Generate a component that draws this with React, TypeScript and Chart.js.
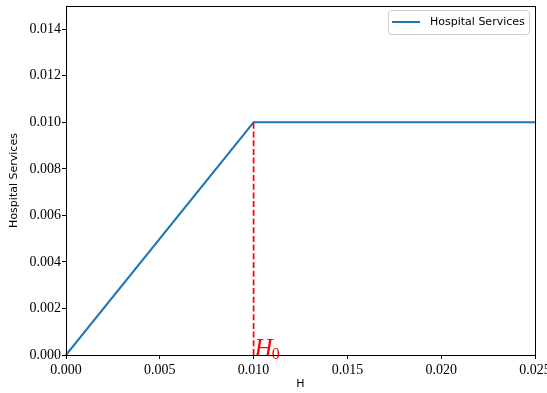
import React, { useEffect, useRef } from 'react';
import { Chart, registerables } from 'chart.js';

Chart.register(...registerables);

const seriesName = 'Hospital Services';
const xAxisTitle = 'H';
const yAxisTitle = 'Hospital Services';
const hValues = [0, 0.01, 0.025];
const serviceValues = [0, 0.01, 0.01];
const thresholdH = [0.01];
const thresholdTop = [0.01];
const thresholdLabel = 'H';
const thresholdSub = '0';
const xTicks = [0, 0.005, 0.01, 0.015, 0.02, 0.025];
const yTicks = [0, 0.002, 0.004, 0.006, 0.008, 0.01, 0.012, 0.014];
const xRange = [0, 0.025];
const yRange = [0, 0.015];

const BLUE = '#1f77b4';
const RED = '#ff0000';
const TICK_FONT = { family: '"Liberation Serif", serif', size: 14 };
const SANS = '"DejaVu Sans", sans-serif';

export default function App() {
  const ref = useRef<HTMLCanvasElement | null>(null);

  useEffect(() => {
    document.body.style.margin = '0';
    const canvas = ref.current;
    if (!canvas) return;

    const overlay = {
      id: 'overlay',
      afterDatasetsDraw(chart: any) {
        const { ctx, scales } = chart;
        const xs = scales.x;
        const ys = scales.y;
        ctx.save();
        thresholdH.forEach((h, i) => {
          const px = xs.getPixelForValue(h);
          ctx.strokeStyle = RED;
          ctx.lineWidth = 1.7;
          ctx.setLineDash([6, 2.7]);
          ctx.beginPath();
          ctx.moveTo(px, ys.getPixelForValue(0));
          ctx.lineTo(px, ys.getPixelForValue(thresholdTop[i]));
          ctx.stroke();
          ctx.setLineDash([]);
          ctx.fillStyle = RED;
          ctx.textBaseline = 'alphabetic';
          ctx.textAlign = 'left';
          ctx.font = 'italic 25px "Liberation Serif", serif';
          const bx = px + 1;
          const by = ys.getPixelForValue(0);
          ctx.fillText(thresholdLabel, bx, by + 1);
          const w = ctx.measureText(thresholdLabel).width;
          ctx.font = '16px "Liberation Serif", serif';
          ctx.fillText(thresholdSub, bx + w - 1, by + 4);
        });
        ctx.restore();
      },
      afterDraw(chart: any) {
        const { ctx, chartArea } = chart;
        ctx.save();
        ctx.strokeStyle = '#000';
        ctx.lineWidth = 1;
        ctx.strokeRect(
          Math.round(chartArea.left) + 0.5,
          Math.round(chartArea.top) + 0.5,
          Math.round(chartArea.right) - Math.round(chartArea.left),
          Math.round(chartArea.bottom) - Math.round(chartArea.top)
        );
        const bx = 388.5, by = 10.5, bw = 141, bh = 24, r = 3;
        ctx.beginPath();
        ctx.moveTo(bx + r, by);
        ctx.lineTo(bx + bw - r, by);
        ctx.arcTo(bx + bw, by, bx + bw, by + r, r);
        ctx.lineTo(bx + bw, by + bh - r);
        ctx.arcTo(bx + bw, by + bh, bx + bw - r, by + bh, r);
        ctx.lineTo(bx + r, by + bh);
        ctx.arcTo(bx, by + bh, bx, by + bh - r, r);
        ctx.lineTo(bx, by + r);
        ctx.arcTo(bx, by, bx + r, by, r);
        ctx.closePath();
        ctx.fillStyle = 'rgba(255,255,255,0.8)';
        ctx.fill();
        ctx.strokeStyle = '#cccccc';
        ctx.lineWidth = 1;
        ctx.stroke();
        ctx.strokeStyle = BLUE;
        ctx.lineWidth = 2;
        ctx.beginPath();
        ctx.moveTo(392, 22);
        ctx.lineTo(420, 22);
        ctx.stroke();
        ctx.fillStyle = '#000';
        ctx.font = '11px ' + SANS;
        ctx.textBaseline = 'middle';
        ctx.textAlign = 'left';
        ctx.fillText(seriesName, 430, 22.5);
        ctx.restore();
      },
    };

    const chart = new Chart(canvas, {
      type: 'line',
      data: {
        datasets: [
          {
            label: seriesName,
            data: hValues.map((h, i) => ({ x: h, y: serviceValues[i] })),
            borderColor: BLUE,
            backgroundColor: BLUE,
            borderWidth: 2,
            pointRadius: 0,
            tension: 0,
            clip: 2,
          },
        ],
      },
      options: {
        responsive: false,
        animation: false,
        layout: { padding: { left: 0, right: 12, top: 6, bottom: 0 } },
        plugins: {
          legend: { display: false },
          tooltip: { enabled: false },
        },
        scales: {
          x: {
            type: 'linear',
            min: xRange[0],
            max: xRange[1],
            afterBuildTicks: (s: any) => {
              s.ticks = xTicks.map((v) => ({ value: v }));
            },
            afterFit: (s: any) => {
              s.height = 38;
              s.paddingLeft = 0;
              s.paddingRight = 0;
            },
            ticks: {
              color: '#000',
              font: TICK_FONT,
              padding: 3,
              maxRotation: 0,
              autoSkip: false,
              callback: (v: any) => Number(v).toFixed(3),
            },
            grid: {
              display: true,
              drawOnChartArea: false,
              drawTicks: true,
              tickLength: 4,
              tickColor: '#000',
              tickWidth: 1,
            },
            border: { display: false },
            title: {
              display: true,
              text: xAxisTitle,
              color: '#000',
              font: { family: SANS, size: 11 },
              padding: { top: 0, bottom: 2 },
            },
          },
          y: {
            type: 'linear',
            min: yRange[0],
            max: yRange[1],
            afterBuildTicks: (s: any) => {
              s.ticks = yTicks.map((v) => ({ value: v }));
            },
            afterFit: (s: any) => {
              s.width = 66;
              s.paddingTop = 0;
              s.paddingBottom = 0;
            },
            ticks: {
              color: '#000',
              font: TICK_FONT,
              padding: 1,
              autoSkip: false,
              callback: (v: any) => Number(v).toFixed(3),
            },
            grid: {
              display: true,
              drawOnChartArea: false,
              drawTicks: true,
              tickLength: 4,
              tickColor: '#000',
              tickWidth: 1,
            },
            border: { display: false },
            title: {
              display: true,
              text: yAxisTitle,
              color: '#000',
              font: { family: SANS, size: 11 },
              padding: { top: 8, bottom: 0 },
            },
          },
        },
      },
      plugins: [overlay],
    });

    return () => chart.destroy();
  }, []);

  return (
    <div style={{ width: 547, height: 393, overflow: 'hidden', background: '#fff' }}>
      <canvas ref={ref} width={547} height={393} style={{ display: 'block' }} />
    </div>
  );
}
